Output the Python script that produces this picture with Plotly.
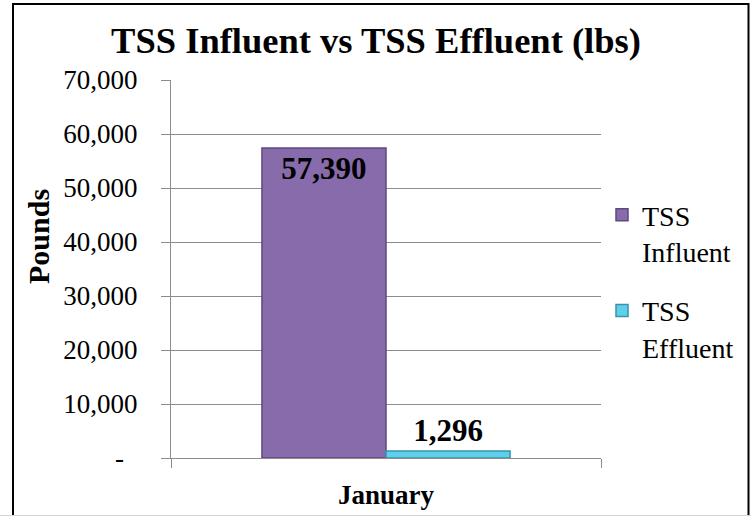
import plotly.graph_objects as go

categories = ["January"]
influent_name = "TSS<br>Influent"
effluent_name = "TSS<br>Effluent"
influent = [57390]
effluent = [1296]
y_tick_vals = [0, 10000, 20000, 30000, 40000, 50000, 60000, 70000]
y_tick_text = ["-\u00a0\u00a0", "10,000", "20,000", "30,000", "40,000", "50,000", "60,000", "70,000"]
title_text = "TSS Influent vs TSS Effluent (lbs)"
y_title = "Pounds"

FONT = "Liberation Serif"
GRID = "#8C8C8C"

fig = go.Figure()
fig.add_trace(go.Bar(
    x=categories, y=influent, name=influent_name, legendgroup="inf",
    marker=dict(color="#876BAB", line=dict(color="#5E4A7E", width=1.5)),
    text=[f"{v:,}" for v in influent], textposition="inside", insidetextanchor="end",
    textfont=dict(family=FONT, size=31, color="black", weight="bold"),
    cliponaxis=False,
))
fig.add_trace(go.Bar(
    x=categories, y=effluent, name=effluent_name, legendgroup="eff",
    marker=dict(color="#5DD0EB", line=dict(color="#3C93AA", width=1.5)),
    text=[f"{v:,}" for v in effluent], textposition="outside",
    textfont=dict(family=FONT, size=31, color="black", weight="bold"),
    cliponaxis=False,
))

W, H = 751, 516
L, R, T, B = 171, 150, 80, 58
pw, ph = W - L - R, H - T - B

def px_x(p):
    return (p - L) / pw

def px_y(p):
    return (H - B - p) / ph

fig.update_layout(
    width=W, height=H, autosize=False,
    margin=dict(l=L, r=R, t=T, b=B, pad=0, autoexpand=False),
    paper_bgcolor="white", plot_bgcolor="white",
    barmode="group", bargap=0.423, bargroupgap=0,
    font=dict(family=FONT, color="black"),
    title=dict(text=title_text, font=dict(family=FONT, size=36.5, color="black", weight="bold"),
               x=376 / W, xref="container", xanchor="center",
               y=1 - 40 / H, yref="container", yanchor="middle"),
    xaxis=dict(type="category", showline=True, linecolor=GRID, linewidth=1, automargin=False,
               ticks="outside", tickson="boundaries", ticklen=9, tickcolor=GRID, tickwidth=1,
               showgrid=False, tickfont=dict(family=FONT, size=27, color="black", weight="bold"),
               ticklabelstandoff=13),
    yaxis=dict(range=[0, 70000], tickvals=y_tick_vals, ticktext=y_tick_text, automargin=False,
               showgrid=True, gridcolor=GRID, gridwidth=1,
               ticks="outside", ticklen=9, tickcolor=GRID, tickwidth=1,
               showline=True, linecolor=GRID, linewidth=1, zeroline=False,
               tickfont=dict(family=FONT, size=27, color="black"),
               ticklabelstandoff=18),
    legend=dict(x=px_x(602), y=px_y(190), xanchor="left", yanchor="top", valign="top",
                font=dict(family=FONT, size=28, color="black"),
                tracegroupgap=20, bgcolor="rgba(0,0,0,0)"),
    showlegend=True,
    annotations=[dict(text=f"<b>{y_title}</b>", textangle=-90, xref="paper", yref="paper",
                      x=px_x(38), y=px_y(237), xanchor="center", yanchor="middle",
                      showarrow=False, font=dict(family=FONT, size=30, color="black"))],
    shapes=[
        dict(type="rect", xref="paper", yref="paper", x0=px_x(13), x1=px_x(748.5),
             y0=px_y(530), y1=px_y(4), line=dict(color="black", width=2), layer="above"),
        dict(type="line", xref="paper", yref="paper", x0=px_x(0), x1=px_x(751),
             y0=px_y(515.5), y1=px_y(515.5), line=dict(color="#D4D4D4", width=1)),
    ],
)

fig.write_html("out.html", config={"displayModeBar": False},
               post_script="document.body.style.margin='0';document.body.style.overflow='hidden';")
